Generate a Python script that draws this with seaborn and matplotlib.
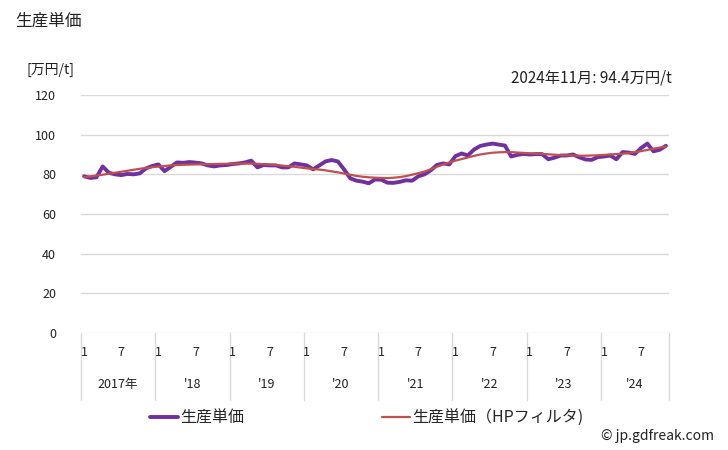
import matplotlib
matplotlib.use("Agg")
import matplotlib.pyplot as plt
import matplotlib.transforms as mtransforms
from matplotlib.lines import Line2D
import seaborn as sns
import pandas as pd

# ---- data -------------------------------------------------------------
years = ["2017年", "'18", "'19", "'20", "'21", "'22", "'23", "'24"]
month_ticks = ["1", "7"]
series_names = ["生産単価", "生産単価（HPフィルタ)"]

price = [
    79.0, 78.2, 78.5, 84.0, 80.8, 80.0, 79.6, 80.2, 80.0, 80.5, 83.0, 84.2,
    85.0, 81.6, 83.8, 86.0, 85.8, 86.2, 85.9, 85.5, 84.5, 84.0, 84.5, 84.7,
    85.2, 85.5, 86.0, 86.9, 83.5, 84.7, 84.5, 84.5, 83.5, 83.5, 85.5, 85.0,
    84.5, 82.5, 84.5, 86.5, 87.2, 86.5, 82.5, 78.0, 76.8, 76.3, 75.5, 77.4,
    77.3, 75.8, 75.7, 76.2, 77.0, 76.8, 79.0, 80.0, 82.0, 84.7, 85.5, 85.0,
    89.2, 90.5, 89.5, 92.5, 94.3, 95.0, 95.5, 95.0, 94.5, 89.0, 89.8, 90.3,
    90.0, 90.2, 90.2, 87.6, 88.4, 89.5, 89.5, 90.0, 88.6, 87.5, 87.3, 88.7,
    89.0, 89.5, 87.6, 91.2, 91.0, 90.3, 93.3, 95.5, 91.6, 92.4, 94.4,
]
hp_trend = [
    78.6, 79.0, 79.4, 79.8, 80.3, 80.8, 81.3, 81.8, 82.3, 82.8, 83.2, 83.6,
    83.9, 84.2, 84.5, 84.7, 84.8, 84.9, 85.0, 85.1, 85.1, 85.2, 85.3, 85.3,
    85.4, 85.4, 85.4, 85.4, 85.3, 85.1, 84.9, 84.7, 84.4, 84.1, 83.8, 83.4,
    83.0, 82.7, 82.4, 82.0, 81.5, 81.0, 80.4, 79.8, 79.2, 78.8, 78.5, 78.3,
    78.2, 78.1, 78.3, 78.6, 79.1, 79.8, 80.6, 81.4, 82.5, 83.8, 85.0, 86.0,
    86.9, 87.7, 88.5, 89.3, 90.0, 90.5, 90.9, 91.1, 91.2, 91.2, 91.0, 90.8,
    90.6, 90.4, 90.3, 90.1, 89.9, 89.7, 89.6, 89.5, 89.4, 89.4, 89.5, 89.6,
    89.8, 90.0, 90.2, 90.4, 90.8, 91.2, 91.7, 92.3, 92.9, 93.5, 94.0,
]
y_ticks = [0, 20, 40, 60, 80, 100, 120]
latest_label = "2024年11月: 94.4万円/t"
unit_label = "[万円/t]"
title = "生産単価"
credit = "© jp.gdfreak.com"

# ---- frame ------------------------------------------------------------
n = len(price)
df = pd.DataFrame({
    "idx": list(range(n)) * 2,
    "value": price + hp_trend,
    "series": [series_names[0]] * n + [series_names[1]] * n,
})

sns.set_theme(style="white")
plt.rcParams["font.family"] = ["Noto Sans CJK JP", "DejaVu Sans"]

purple = "#7030A0"
red = "#C0504D"
grid = "#D9D9D9"

fig = plt.figure(figsize=(7.28, 4.5), dpi=100)
ax = fig.add_axes([81 / 728, 1 - 333 / 450, (669 - 81) / 728, (333 - 95) / 450])

sns.lineplot(data=df, x="idx", y="value", hue="series",
             palette={series_names[0]: purple, series_names[1]: red},
             hue_order=series_names[::-1], legend=False, ax=ax)
for line in ax.lines:
    if matplotlib.colors.to_hex(line.get_color()).lower() == purple.lower():
        line.set_linewidth(2.8)
        line.set_zorder(3)
    else:
        line.set_linewidth(1.6)
        line.set_zorder(4)

ax.set_xlim(-0.5, n - 0.5)
ax.set_ylim(0, 120)
ax.set_yticks(y_ticks)
ax.set_yticklabels([str(v) for v in y_ticks], fontsize=9, color="#222222")
ax.tick_params(axis="y", length=0, pad=18)
ax.set_xticks([])
ax.set_xlabel("")
ax.set_ylabel("")
ax.yaxis.grid(True, color=grid, linewidth=1)
for s in ax.spines.values():
    s.set_visible(False)

# x axis: month labels, year labels, separators
trans = mtransforms.blended_transform_factory(ax.transData, ax.transAxes)
for k, yl in enumerate(years):
    start = 12 * k
    for j, m in enumerate(month_ticks):
        pos = start + 6 * j
        if pos < n:
            ax.text(pos, -0.08, m, transform=trans, ha="center", va="center",
                    fontsize=9, color="#222222")
    end = min(start + 12, n)
    ax.text((start - 0.5 + end - 0.5) / 2, -0.215, yl, transform=trans,
            ha="center", va="center", fontsize=9, color="#222222")
    ax.plot([start - 0.5, start - 0.5], [0, -0.28], transform=trans,
            color=grid, linewidth=1, clip_on=False)
ax.plot([n - 0.5, n - 0.5], [0, -0.28], transform=trans,
        color=grid, linewidth=1, clip_on=False)

# texts
fig.text(15 / 728, 1 - 21 / 450, title, fontsize=12, ha="left", va="center", color="#222222")
fig.text(27 / 728, 1 - 70 / 450, unit_label, fontsize=10, ha="left", va="center", color="#222222")
fig.text(672 / 728, 1 - 78 / 450, latest_label, fontsize=11, ha="right", va="center", color="#222222")
fig.text(714 / 728, 1 - 436 / 450, credit, fontsize=10, ha="right", va="center", color="#222222")

# legend
handles = [Line2D([], [], color=purple, linewidth=2.8),
           Line2D([], [], color=red, linewidth=1.6)]
fig.legend(handles, series_names, loc="center left",
           bbox_to_anchor=(150 / 728, 1 - 418 / 450), ncol=2, frameon=False,
           fontsize=11.5, handlelength=1.75, handletextpad=0.15,
           columnspacing=8.6, borderaxespad=0, borderpad=0)

fig.savefig("out.png", dpi=100)
